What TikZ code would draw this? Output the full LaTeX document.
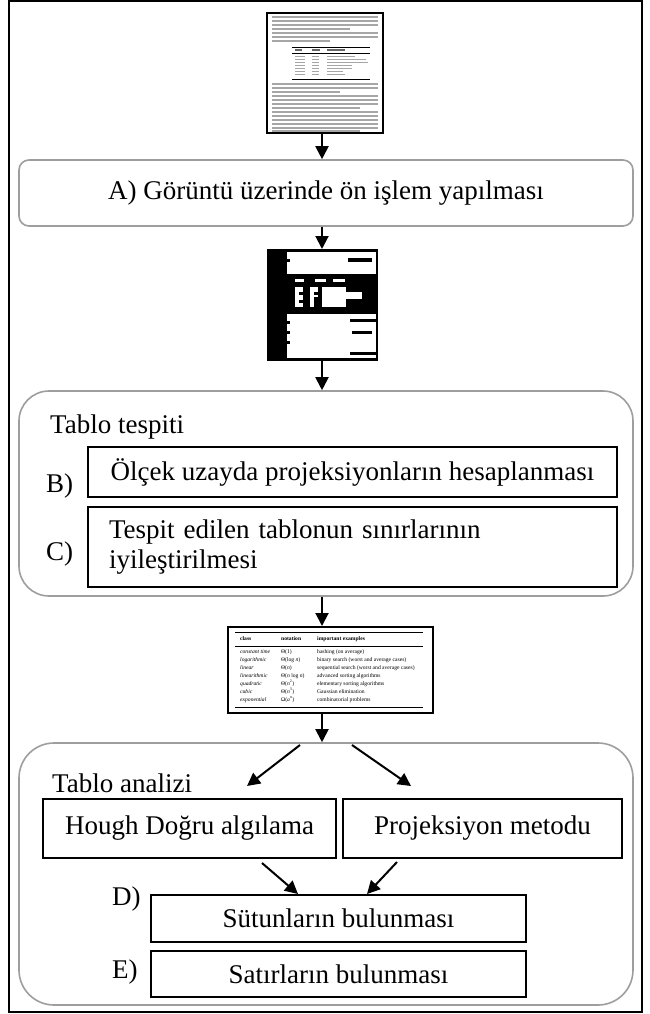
\documentclass[tikz,border=0pt]{standalone}
\usepackage{fontspec}
\setmainfont{Liberation Serif}
\usetikzlibrary{arrows.meta}
\begin{document}
\begin{tikzpicture}[x=1pt,y=-1pt,
  cont/.style={draw=black!38, line width=1.6pt},
  box/.style={draw, line width=2pt, inner sep=0pt, font=\fontsize{27}{30}\selectfont},
  lbl/.style={anchor=base west, inner sep=0pt, font=\fontsize{27}{30}\selectfont},
  img/.style={draw, line width=2pt, inner sep=0pt},
  arr/.style={line width=2pt, -{Triangle[length=13pt,width=13pt]}},
  thin/.style={line width=1.1pt, black!35},
  tt/.style={anchor=base west, inner sep=0pt, font=\fontsize{5.6}{8}\selectfont}
]
\useasboundingbox (0,0) rectangle (649,1014);
\fill[white] (0,0) rectangle (649,1014);
\draw[line width=2pt] (9,1) rectangle (642,1012);
\coordinate (ax) at (322,0);

% ---------- page thumbnail ----------
\node[img, minimum width=116pt, minimum height=120pt] (page) at (325,73) {};
\foreach \y/\e in {17/378,21/378,25/378,29/350,33/378,37/378,41/330}
  \draw[thin] (272,\y) -- (\e,\y);
\draw[line width=0.5pt] (292,47) -- (370,47);
\draw[line width=0.5pt] (292,53) -- (370,53);
\draw[line width=0.5pt] (292,79) -- (370,79);
\draw[line width=1.1pt, black!60] (295,50) -- (302,50) (312,50) -- (320,50) (327,50) -- (345,50);
\foreach \y/\e in {56/355,59/366,62/368,65/352,68/352,71/343,74/345}
  \draw[line width=0.9pt, black!35] (295,\y) -- (305,\y) (312,\y) -- (319,\y) (327,\y) -- (\e,\y);
\foreach \y/\e in {84/378,88/378,92/340,96/378,100/378,104/378,108/360,112/378,116/378,120/378,124/378,128/378}
  \draw[thin] (272,\y) -- (\e,\y);
\draw[thin] (272,131) -- (360,131);

% ---------- A ----------
\node[cont, rounded corners=10pt, inner sep=0pt, minimum width=614pt, minimum height=66pt,
      font=\fontsize{27}{30}\selectfont] (A) at (326,193) {A) Görüntü üzerinde ön işlem yapılması};

% ---------- binary image ----------
\node[img, fill=black, minimum width=109pt, minimum height=110pt] (bin) at (322.5,305) {};
\fill[white] (287,252) rectangle (376,274);
\fill[black] (348,258) rectangle (372,262);
\fill[black] (287,259) rectangle (290,262);
\fill[white] (295,279) rectangle (304,282);
\fill[white] (315,279) rectangle (326,282);
\fill[white] (333,279) rectangle (345,282);
\fill[white] (295,287) rectangle (303,307);
\fill[black] (299,292) rectangle (303,294.5);
\fill[black] (299,300) rectangle (303,302.5);
\fill[white] (310,287) rectangle (318,307);
\fill[black] (314,292) rectangle (318,294.5);
\fill[black] (314,297) rectangle (318,307);
\fill[white] (322,287) rectangle (346,307);
\fill[white] (346,292) rectangle (362,299);
\fill[white] (287,314) rectangle (376,358);
\fill[black] (350,319) rectangle (376,322);
\fill[black] (352,331) rectangle (372,334);
\fill[black] (350,352) rectangle (376,355);
\fill[black] (287,321) rectangle (290,324);
\fill[black] (287,331) rectangle (290,334);
\fill[black] (287,341) rectangle (290,344);

% ---------- Tablo tespiti ----------
\node[cont, rounded corners=30pt, minimum width=614pt, minimum height=205pt] (T1) at (326,493.5) {};
\node[lbl] (t1lbl) at (50,433) {Tablo tespiti};
\node[box, minimum width=529pt, minimum height=50pt] (B) at (352.5,472) {Ölçek uzayda projeksiyonların hesaplanması};
\node[lbl] (blbl) at (46,492) {B)};
\node[box, minimum width=529pt, minimum height=80pt, text width=487pt, align=left, inner xsep=21pt] (C) at (352.5,547)
  {Tespit edilen tablonun sınırlarının\\iyileştirilmesi};
\node[lbl] (clbl) at (46,560) {C)};

% ---------- table image ----------
\node[img, minimum width=205pt, minimum height=86pt] (tab) at (330.5,670) {};
\draw[line width=0.5pt] (235,632) -- (423,632);
\draw[line width=0.5pt] (235,646) -- (423,646);
\draw[line width=0.5pt] (235,707) -- (423,707);
\node[tt] (h1) at (240,640) {\textbf{class}};
\node[tt] (h2) at (281,640) {\textbf{notation}};
\node[tt] (h3) at (317,640) {\textbf{important examples}};
\foreach \i/\a/\b/\c in {
  0/constant time/Θ(1)/hashing (on average),
  1/logarithmic/Θ(log \textit{n})/binary search (worst and average cases),
  2/linear/Θ(\textit{n})/sequential search (worst and average cases),
  3/linearithmic/Θ(\textit{n} log \textit{n})/advanced sorting algorithms,
  4/quadratic/Θ(\textit{n}\textsuperscript{2})/elementary sorting algorithms,
  5/cubic/Θ(\textit{n}\textsuperscript{3})/Gaussian elimination,
  6/exponential/Ω(\textit{a}\textsuperscript{\textit{n}})/combinatorial problems}{
  \node[tt] (ra\i) at (240,653+8*\i) {\textit{\a}};
  \node[tt] (rb\i) at (281,653+8*\i) {\b};
  \node[tt] (rc\i) at (317,653+8*\i) {\c};
}

% ---------- Tablo analizi ----------
\node[cont, rounded corners=35pt, minimum width=614pt, minimum height=262pt] (T2) at (326,874) {};
\node[lbl] (t2lbl) at (52,792) {Tablo analizi};
\node[box, minimum width=293pt, minimum height=59pt] (H) at (189.5,828.5) {Hough Doğru algılama};
\node[box, minimum width=279pt, minimum height=59pt] (P) at (482.5,828.5) {Projeksiyon metodu};
\node[box, minimum width=375pt, minimum height=47pt] (D) at (338.5,918.5) {\raisebox{-4pt}{Sütunların bulunması}};
\node[lbl] (dlbl) at (112,905) {D)};
\node[box, minimum width=375pt, minimum height=46pt] (E) at (338.5,974) {Satırların bulunması};
\node[lbl] (elbl) at (112,978) {E)};

% ---------- connectors ----------
\draw[arr] (page.south -| ax) -- (A.north -| ax);
\draw[arr] (A.south -| ax) -- (bin.north -| ax);
\draw[arr] (bin.south -| ax) -- (T1.north -| ax);
\draw[arr] (T1.south -| ax) -- (tab.north -| ax);
\draw[arr] (tab.south -| ax) -- (T2.north -| ax);
\coordinate (s1) at (300,745);
\coordinate (e1) at (247,786);
\coordinate (s2) at (352,745);
\coordinate (e2) at (411,786);
\draw[arr] (s1) -- (e1);
\draw[arr] (s2) -- (e2);
\coordinate (s3) at (262,863);
\coordinate (s4) at (397,862);
\draw[arr] (s3) -- (D.north -| 298,0);
\draw[arr] (s4) -- (D.north -| 367,0);
\end{tikzpicture}
\end{document}
